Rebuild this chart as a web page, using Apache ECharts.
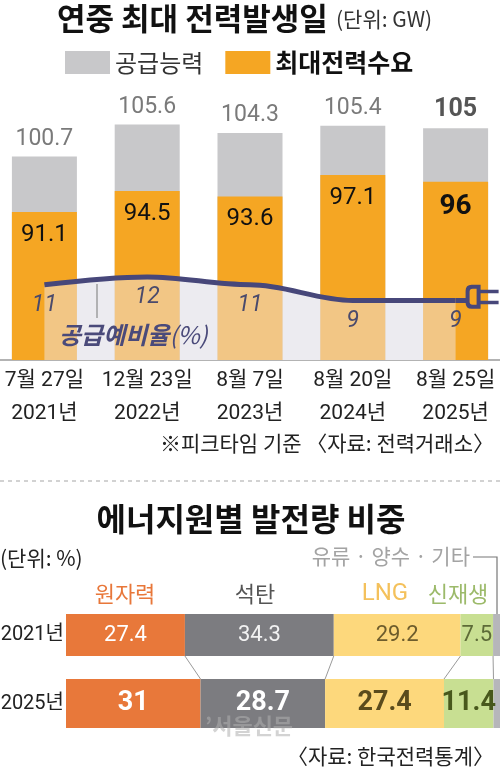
<!DOCTYPE html>
<html><head><meta charset="utf-8">
<script src="https://cdn.jsdelivr.net/npm/echarts@6/dist/echarts.min.js"></script>
<style>html,body{margin:0;padding:0;background:#fff}#c{width:500px;height:768px}</style>
</head><body><div id="c"></div>
<script>
// ---- data: 연중 최대 전력발생일 ----
const dateLabels = ['7월 27일\n2021년', '12월 23일\n2022년', '8월 7일\n2023년', '8월 20일\n2024년', '8월 25일\n2025년'];
const supplyCapacity = [100.7, 105.6, 104.3, 105.4, 105];
const peakDemand = [91.1, 94.5, 93.6, 97.1, 96];
const reserveRate = [11, 12, 11, 9, 9];

// ---- data: 에너지원별 발전량 비중 ----
const mixYears = ['2021년', '2025년'];
const mixSources = ['원자력', '석탄', 'LNG', '신재생', '유류·양수·기타'];
const mix2021 = [27.4, 34.3, 29.2, 7.5, 1.6];
const mix2025 = [31, 28.7, 27.4, 11.4, 1.5];

const NUM = "Roboto,'Noto Sans CJK KR',sans-serif";
const KR = "'Noto Sans CJK KR','Noto Sans',sans-serif";
const srcColors = ['#e8783a', '#7c7c80', '#fdd87c', '#c8df92', '#b6b6ba'];
const lbl21 = ['#ffffff', '#f2f2f2', '#6d5c2c', '#5d6b38', '#000'];
const lbl25 = ['#ffffff', '#ffffff', '#5a4b1c', '#48581c', '#000'];

const chart = echarts.init(document.getElementById('c'), null, {renderer: 'canvas'});

const last = supplyCapacity.length - 1;
const series = [
  {
    type: 'bar', name: '공급능력', xAxisIndex: 0, yAxisIndex: 0,
    barWidth: 65, barGap: '-100%', z: 2,
    itemStyle: {color: '#c8c8ca'},
    label: {show: true, position: 'top', distance: 6, fontFamily: NUM, fontSize: 23, color: '#7a7a7a'},
    data: supplyCapacity.map((v, i) => i === last ? {value: v, label: {fontWeight: 'bold', color: '#555', fontSize: 25}} : v)
  },
  {
    type: 'bar', name: '최대전력수요', xAxisIndex: 0, yAxisIndex: 1,
    barWidth: 65, barGap: '-100%', z: 2,
    itemStyle: {color: '#f5a623'},
    label: {show: true, position: 'insideTop', distance: 11, fontFamily: NUM, fontSize: 24, color: '#111'},
    data: peakDemand.map((v, i) => i === last ? {value: v, label: {fontWeight: 'bold', fontSize: 28}} : v)
  },
  {
    type: 'line', name: 'reserveBase', xAxisIndex: 0, yAxisIndex: 2, z: 1,
    smooth: 0.35, smoothMonotone: 'x', symbol: 'none', silent: true,
    lineStyle: {width: 0, opacity: 0},
    areaStyle: {color: 'rgb(233,233,232)', opacity: 1, origin: 'start'},
    data: reserveRate
  },
  {
    type: 'line', name: '공급예비율', xAxisIndex: 0, yAxisIndex: 2, z: 3,
    smooth: 0.35, smoothMonotone: 'x', symbol: 'circle', symbolSize: 0, showSymbol: true,
    lineStyle: {color: '#47477a', width: 5},
    itemStyle: {color: '#47477a'},
    areaStyle: {color: 'rgba(240,238,250,0.65)', origin: 'start'},
    label: {show: true, position: 'bottom', distance: 9, fontFamily: NUM, fontSize: 23, fontStyle: 'italic', color: '#4a4a6c'},
    markPoint: {
      silent: true,
      symbol: 'path://M0 14.2L11 14.2L11 19.2L0 19.2Z M16 1L25 1L25 25L16 25Q10 25 10 19L10 7Q10 1 16 1Z M17 5Q14 5 14 8L14 18Q14 21 17 21L21 21L21 5Z M25 6L43 6L43 9.5L25 9.5Z M25 17L43 17L43 20.5L25 20.5Z',
      symbolSize: [43, 24], symbolKeepAspect: false, symbolOffset: [21.5, -3.7],
      itemStyle: {color: '#47477a'},
      label: {show: false},
      data: [{coord: [reserveRate.length - 1, reserveRate[reserveRate.length - 1]]}]
    },
    data: reserveRate
  }
];

mixSources.forEach((name, i) => {
  series.push({
    type: 'bar', name: name + '21', xAxisIndex: 1, yAxisIndex: 3, stack: 'y21', barWidth: '100%',
    itemStyle: {color: srcColors[i]},
    label: {show: i < 4, position: 'inside', formatter: '{c}', fontFamily: NUM, fontSize: 22, color: lbl21[i]},
    data: [mix2021[i]]
  });
  series.push({
    type: 'bar', name: name + '25', xAxisIndex: 2, yAxisIndex: 4, stack: 'y25', barWidth: '100%',
    itemStyle: {color: srcColors[i]},
    label: {show: i < 4, position: 'inside', formatter: '{c}', fontFamily: NUM, fontSize: 27, fontWeight: 'bold', color: lbl25[i]},
    data: [mix2025[i]]
  });
});

// connector lines between segment boundaries
const bounds = [];
let c21 = 0, c25 = 0;
for (let i = 0; i < mixSources.length - 1; i++) {
  c21 += mix2021[i]; c25 += mix2025[i];
  bounds.push([c21, c25]);
}
series.push({
  type: 'custom', xAxisIndex: 3, yAxisIndex: 5, silent: true,
  renderItem: function (params, api) {
    const a = api.coord([api.value(0), 1]);
    const b = api.coord([api.value(1), 0]);
    return {type: 'line', shape: {x1: a[0], y1: a[1], x2: b[0], y2: b[1]}, style: {stroke: '#9a9a9a', lineWidth: 1}};
  },
  data: bounds
});

function txt(text, x, y, opt) {
  return {
    type: 'text', z: 20, silent: true,
    style: Object.assign({
      text: text, x: x, y: y, font: '21px ' + KR, fill: '#222',
      align: 'left', verticalAlign: 'middle', textAlign: 'left', textVerticalAlign: 'middle'
    }, opt || {})
  };
}
function al(a) { return {align: a, textAlign: a}; }

const option = {
  animation: false,
  backgroundColor: '#fff',
  legend: {
    left: 65, top: 50, padding: 0, itemWidth: 45, itemHeight: 23, itemGap: 22, icon: 'rect',
    textStyle: {fontFamily: KR, fontSize: 24, color: '#333'},
    selectedMode: false,
    data: [
      {name: '공급능력', itemStyle: {color: '#c8c8ca'}},
      {name: '최대전력수요', itemStyle: {color: '#f5a623'}, textStyle: {fontWeight: 'bold', color: '#111', fontSize: 25}}
    ]
  },
  grid: [
    {left: -7, right: -7, top: 99, bottom: 408, outerBoundsMode: 'none', containLabel: false},
    {left: 66, right: 0, top: 614, height: 42, outerBoundsMode: 'none', containLabel: false},
    {left: 66, right: 0, top: 679, height: 49, outerBoundsMode: 'none', containLabel: false},
    {left: 66, right: 0, top: 656, height: 23, outerBoundsMode: 'none', containLabel: false}
  ],
  xAxis: [
    {
      type: 'category', gridIndex: 0, data: dateLabels,
      axisLine: {lineStyle: {color: '#9a9a9a', width: 1.5}},
      axisTick: {show: false},
      axisLabel: {interval: 0, fontFamily: NUM, fontSize: 21, color: '#222', lineHeight: 33, margin: 4}
    },
    {type: 'value', gridIndex: 1, min: 0, max: 100, show: false},
    {type: 'value', gridIndex: 2, min: 0, max: 100, show: false},
    {type: 'value', gridIndex: 3, min: 0, max: 100, show: false}
  ],
  yAxis: [
    {type: 'value', gridIndex: 0, min: 69.5, max: 109.5, show: false},
    {type: 'value', gridIndex: 0, min: 67.1, max: 109.4, show: false},
    {type: 'value', gridIndex: 0, min: 1.4, max: 34.7, show: false},
    {
      type: 'category', gridIndex: 1, data: [mixYears[0]],
      axisLine: {show: false}, axisTick: {show: false},
      axisLabel: {fontFamily: NUM, fontSize: 20, color: '#222', margin: 2}
    },
    {
      type: 'category', gridIndex: 2, data: [mixYears[1]],
      axisLine: {show: false}, axisTick: {show: false},
      axisLabel: {fontFamily: NUM, fontSize: 20, color: '#222', margin: 2}
    },
    {type: 'value', gridIndex: 3, min: 0, max: 1, show: false}
  ],
  graphic: [
    txt('연중 최대 전력발생일', 57, 18, {font: 'bold 31px ' + KR, fill: '#111'}),
    txt('(단위: GW)', 336, 19, {font: '21px ' + KR, fill: '#333'}),
    {
      type: 'line', z: 20, silent: true,
      shape: {x1: 97, y1: 284, x2: 97, y2: 318},
      style: {stroke: '#8a8a8a', lineWidth: 1.2}
    },
    {
      type: 'text', z: 20, silent: true,
      style: {
        text: '{a|공급예비율}{b|(%)}', x: 59, y: 335,
        align: 'left', verticalAlign: 'middle', textAlign: 'left', textVerticalAlign: 'middle',
        rich: {
          a: {fontFamily: KR, fontSize: 24, fontWeight: 'bold', fontStyle: 'italic', fill: '#4a4a7a', color: '#4a4a7a'},
          b: {fontFamily: KR, fontSize: 24, fontStyle: 'italic', fill: '#4a4a7a', color: '#4a4a7a'}
        }
      }
    },
    txt('※피크타임 기준 〈자료: 전력거래소〉', 494, 443, Object.assign({font: '21px ' + KR, fill: '#222'}, al('right'))),
    {
      type: 'line', z: 1, silent: true,
      shape: {x1: 0, y1: 481, x2: 500, y2: 481},
      style: {stroke: '#d2d2d2', lineWidth: 2, lineDash: [4, 4]}
    },
    txt('에너지원별 발전량 비중', 251, 519, Object.assign({font: 'bold 32px ' + KR, fill: '#111'}, al('center'))),
    txt('(단위: %)', 0, 558, {font: '21px ' + KR, fill: '#222'}),
    txt('유류 · 양수 · 기타', 470, 556, Object.assign({font: '21px ' + KR, fill: '#a3a3a3'}, al('right'))),
    {
      type: 'polyline', z: 1, silent: true,
      shape: {points: [[473, 557], [497, 557], [497, 614]]},
      style: {stroke: '#777', lineWidth: 1.2, fill: null}
    },
    txt(mixSources[0], 125, 594, Object.assign({font: '22px ' + KR, fill: '#e8773a'}, al('center'))),
    txt(mixSources[1], 255, 594, Object.assign({font: '22px ' + KR, fill: '#555'}, al('center'))),
    txt(mixSources[2], 385, 594, Object.assign({font: '24px ' + NUM, fill: '#f4c15c'}, al('center'))),
    txt(mixSources[3], 458, 594, Object.assign({font: '22px ' + KR, fill: '#9cba6a'}, al('center'))),
    txt('’서울신문', 205, 726, {font: 'bold 22px ' + KR, fill: 'rgba(175,175,175,0.55)'}),
    txt('〈자료: 한국전력통계〉', 494, 756, Object.assign({font: '21px ' + KR, fill: '#222'}, al('right')))
  ],
  series: series
};
chart.setOption(option);
</script>
</body></html>
